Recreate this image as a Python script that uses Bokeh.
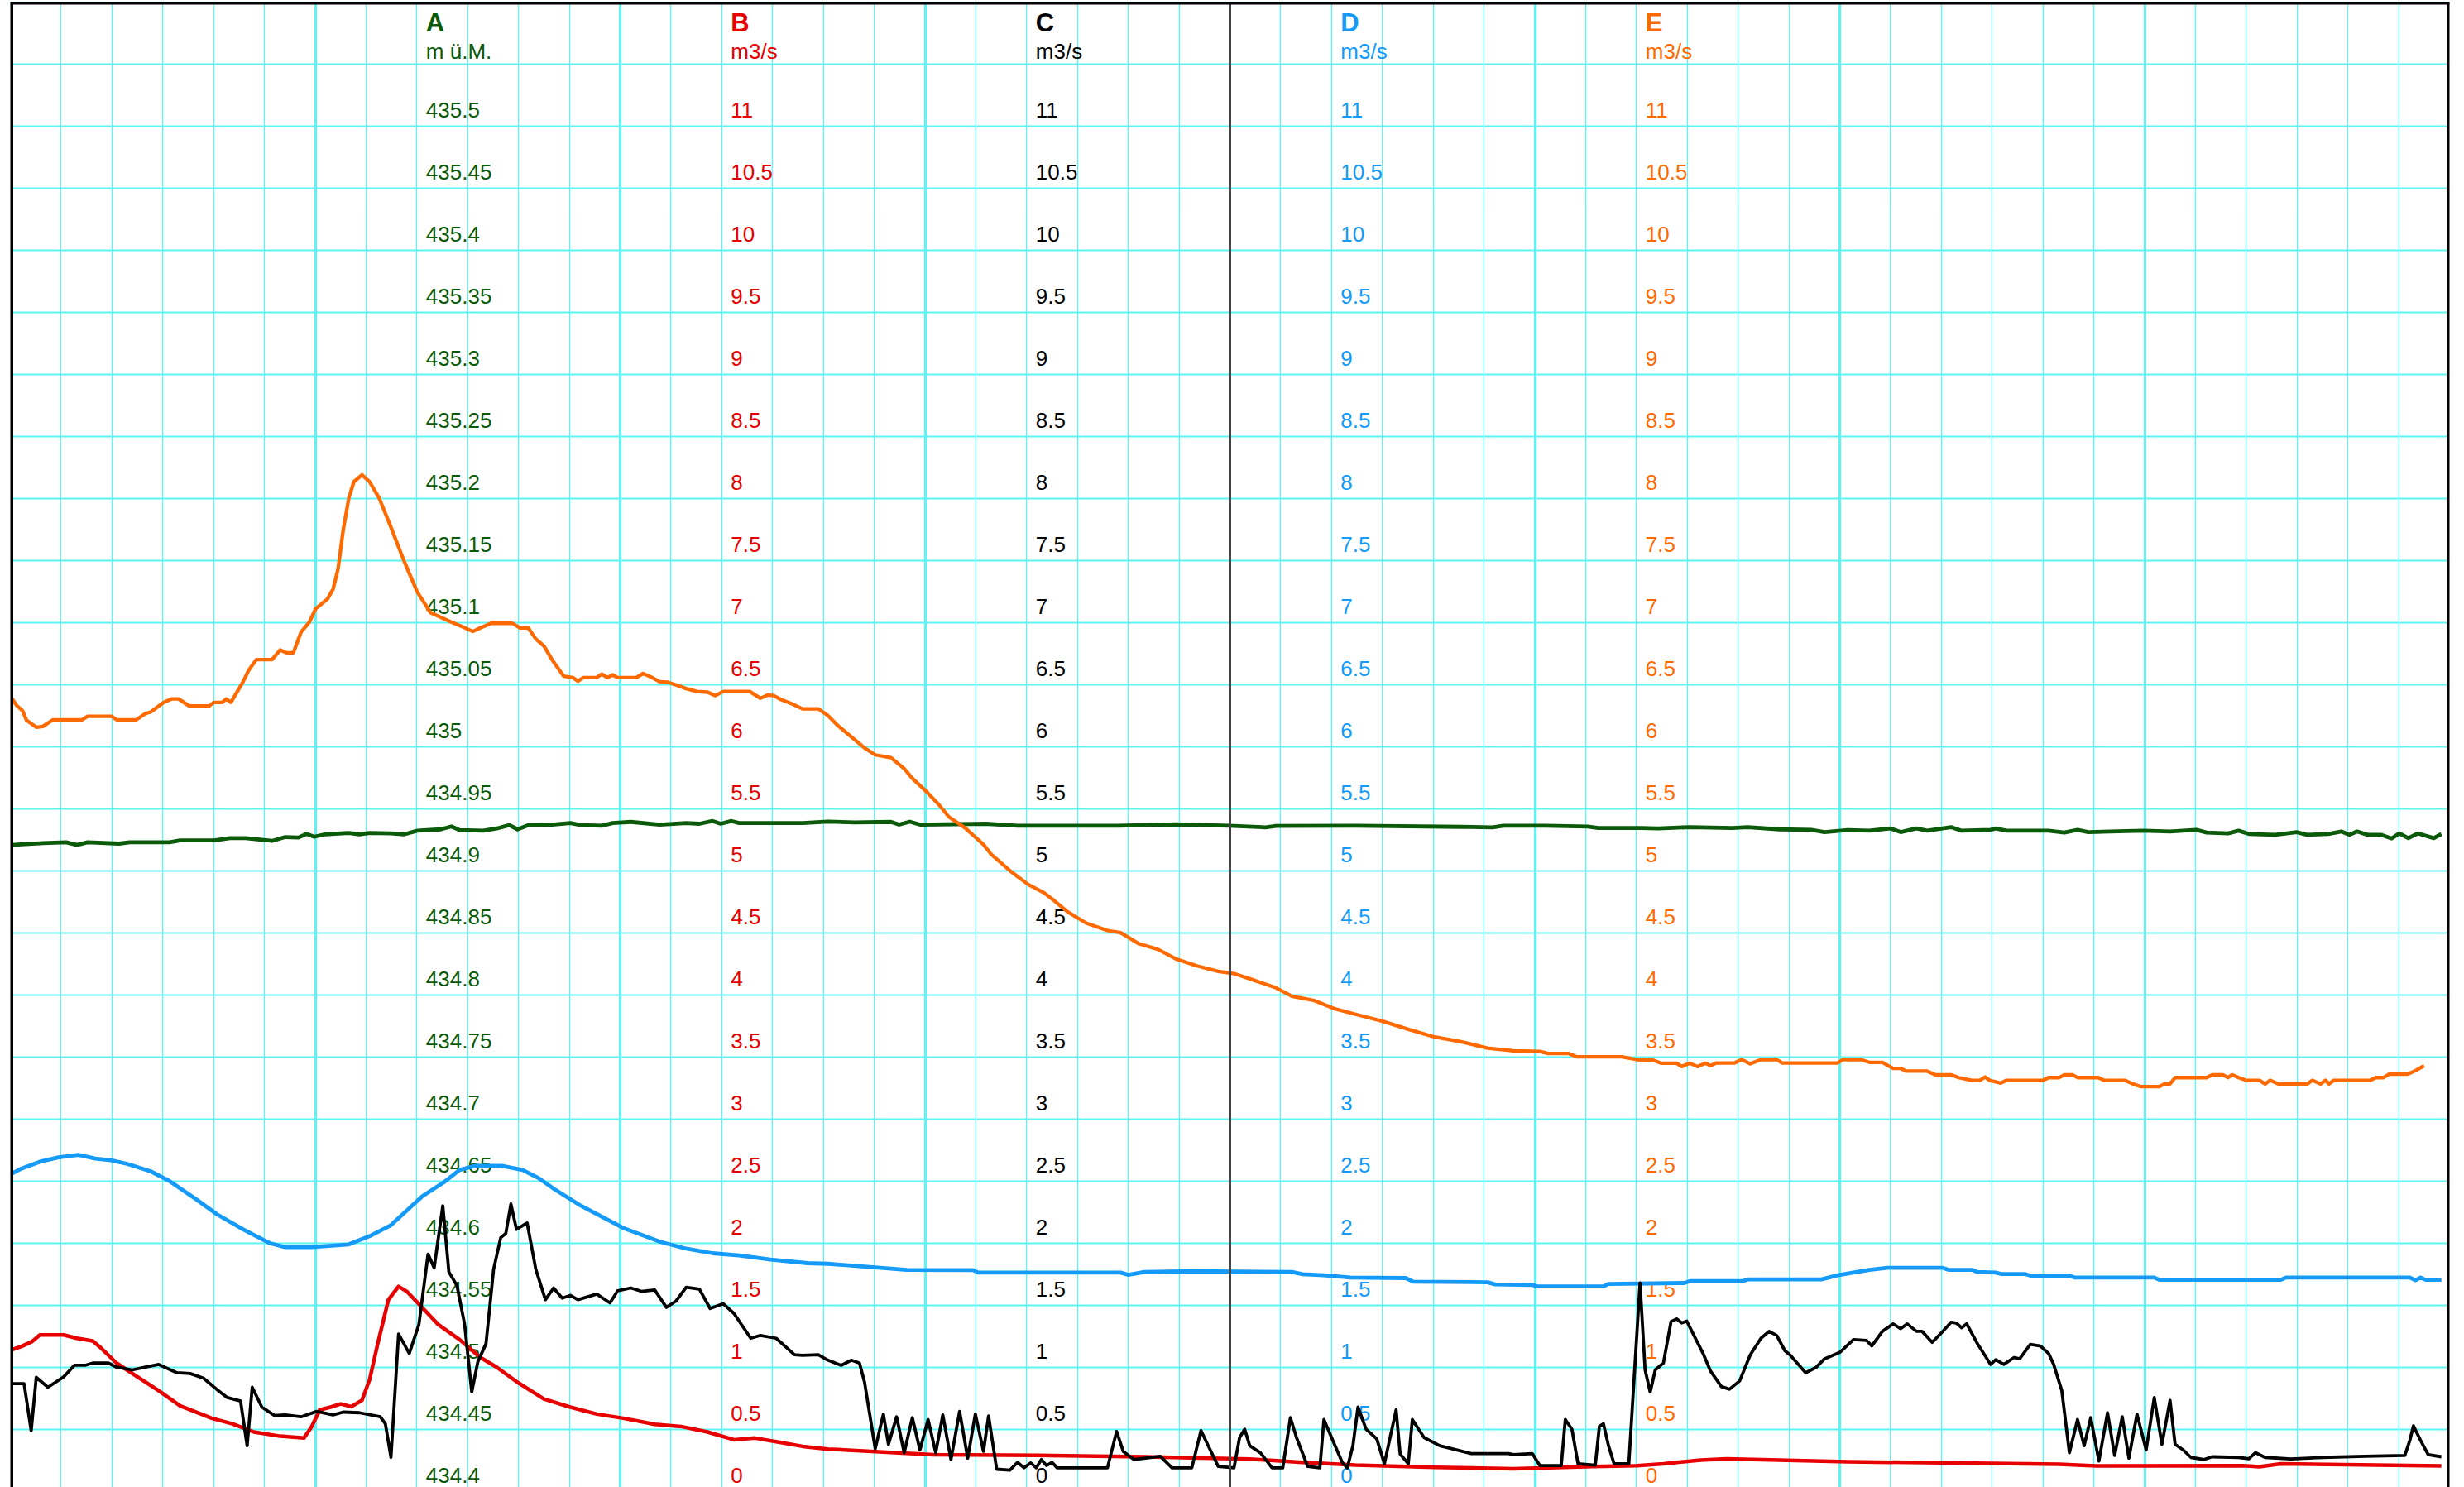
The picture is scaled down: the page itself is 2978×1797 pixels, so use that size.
from bokeh.plotting import figure
from bokeh.models import Range1d, FixedTicker, Span, Grid
from bokeh.core.properties import value
from bokeh.embed import file_html
from bokeh.resources import INLINE

# ---------------- data (hours since start, values) ----------------
hours_major = [0, 6, 12, 18, 24, 30, 36, 42, 48]
hours_minor = list(range(0, 49))
flow_grid = [0, 0.5, 1, 1.5, 2, 2.5, 3, 3.5, 4, 4.5, 5, 5.5, 6, 6.5, 7, 7.5, 8, 8.5,
             9, 9.5, 10, 10.5, 11, 11.5, 12]
divider_hour = 24

a_ticks = [434.4, 434.45, 434.5, 434.55, 434.6, 434.65, 434.7, 434.75, 434.8, 434.85,
           434.9, 434.95, 435.0, 435.05, 435.1, 435.15, 435.2, 435.25, 435.3, 435.35,
           435.4, 435.45, 435.5]
flow_ticks = [0, 0.5, 1, 1.5, 2, 2.5, 3, 3.5, 4, 4.5, 5, 5.5, 6, 6.5, 7, 7.5, 8, 8.5,
              9, 9.5, 10, 10.5, 11]

series_names = ["A", "B", "C", "D", "E"]
series_units = ["m ü.M.", "m3/s", "m3/s", "m3/s", "m3/s"]

# A: water level, m ü.M.
A_points = [(0.01, 434.9207), (0.64, 434.9222), (1.10, 434.9229), (1.31, 434.9207), (1.52, 434.9229),
            (2.14, 434.9218), (2.35, 434.9229), (3.13, 434.9229), (3.34, 434.9244), (4.01, 434.9244),
            (4.32, 434.9262), (4.63, 434.9262), (5.15, 434.924), (5.41, 434.9271), (5.67, 434.9267),
            (5.83, 434.9296), (5.98, 434.9273), (6.19, 434.9293), (6.66, 434.9304), (6.87, 434.9293),
            (7.07, 434.9304), (7.49, 434.930), (7.75, 434.9293), (8.01, 434.9322), (8.47, 434.9333),
            (8.68, 434.9356), (8.84, 434.9327), (9.31, 434.9322), (9.57, 434.934), (9.82, 434.9367),
            (9.98, 434.9333), (10.19, 434.9367), (10.66, 434.9371), (11.02, 434.9384), (11.23, 434.9367),
            (11.64, 434.9362), (11.85, 434.9384), (12.21, 434.9393), (12.78, 434.9371), (13.30, 434.9384),
            (13.56, 434.9378), (13.82, 434.940), (13.98, 434.9378), (14.19, 434.940), (14.34, 434.9384),
            (15.59, 434.9384), (16.09, 434.9396), (16.61, 434.9389), (17.33, 434.9393), (17.49, 434.9371),
            (17.70, 434.9395), (17.90, 434.9371), (19.2, 434.9378), (19.82, 434.9362), (21.8, 434.9362),
            (22.94, 434.9373), (23.98, 434.9362), (24.70, 434.9349), (24.91, 434.936), (26.47, 434.9362),
            (28.55, 434.9353), (29.17, 434.9349), (29.38, 434.9362), (30.21, 434.9362), (31.04, 434.9356),
            (31.25, 434.9344), (32.08, 434.9344), (32.43, 434.934), (33.05, 434.9351), (33.88, 434.9344),
            (34.19, 434.9351), (34.81, 434.9333), (35.44, 434.9329), (35.70, 434.9311), (36.16, 434.9327),
            (36.58, 434.9322), (37.0, 434.934), (37.2, 434.9311), (37.51, 434.934), (37.72, 434.9322),
            (38.19, 434.9351), (38.40, 434.9322), (38.97, 434.9329), (39.07, 434.934), (39.28, 434.9322),
            (40.11, 434.9322), (40.42, 434.9307), (40.68, 434.9329), (40.89, 434.9311), (41.98, 434.9322),
            (42.50, 434.9316), (43.02, 434.9329), (43.22, 434.9307), (43.64, 434.930), (43.85, 434.9322),
            (44.05, 434.9296), (44.57, 434.9289), (44.99, 434.9311), (45.20, 434.9289), (45.61, 434.9296),
            (45.87, 434.9316), (46.03, 434.9289), (46.18, 434.9316), (46.39, 434.9289), (46.65, 434.9289),
            (46.86, 434.926), (47.01, 434.930), (47.19, 434.9262), (47.38, 434.930), (47.69, 434.9262),
            (47.84, 434.9296)]

# B: discharge m3/s (red)
B_points = [(0.01, 1.138), (0.22, 1.167), (0.43, 1.207), (0.58, 1.26), (1.05, 1.26), (1.31, 1.233),
            (1.62, 1.211), (1.78, 1.156), (2.09, 1.033), (2.50, 0.922), (2.92, 0.811), (3.34, 0.689),
            (3.96, 0.589), (4.37, 0.544), (4.79, 0.478), (5.31, 0.444), (5.78, 0.429), (5.93, 0.522),
            (6.09, 0.656), (6.30, 0.678), (6.50, 0.704), (6.71, 0.682), (6.92, 0.733), (7.07, 0.90),
            (7.23, 1.189), (7.44, 1.544), (7.64, 1.651), (7.80, 1.611), (8.11, 1.478), (8.42, 1.344),
            (8.84, 1.222), (9.25, 1.078), (9.57, 1.0), (9.98, 0.878), (10.5, 0.744), (11.02, 0.678),
            (11.54, 0.622), (12.06, 0.589), (12.68, 0.540), (13.2, 0.522), (13.72, 0.478), (14.24, 0.415),
            (14.65, 0.429), (15.07, 0.40), (15.59, 0.362), (16.09, 0.340), (18.16, 0.295), (20.24, 0.289),
            (22.32, 0.278), (24.39, 0.260), (25.43, 0.233), (26.47, 0.211), (28.03, 0.193), (29.58, 0.182),
            (31.14, 0.20), (32.01, 0.207), (32.53, 0.222), (33.26, 0.251), (33.78, 0.262), (36.16, 0.238),
            (40.32, 0.218), (41.04, 0.204), (43.95, 0.207), (44.26, 0.198), (44.68, 0.222), (47.84, 0.204)]

# C: discharge m3/s (black)
C_points = [(0.01, 0.867), (0.27, 0.867), (0.41, 0.489), (0.51, 0.918), (0.74, 0.838), (1.05, 0.922),
            (1.26, 1.015), (1.47, 1.015), (1.62, 1.033), (1.93, 1.033), (2.09, 1.0), (2.40, 0.978),
            (2.66, 1.0), (2.92, 1.022), (3.28, 0.955), (3.54, 0.949), (3.80, 0.911), (4.06, 0.822),
            (4.27, 0.755), (4.53, 0.727), (4.66, 0.367), (4.76, 0.838), (4.95, 0.678), (5.20, 0.611),
            (5.41, 0.615), (5.72, 0.60), (6.03, 0.644), (6.35, 0.615), (6.55, 0.638), (6.87, 0.633),
            (7.28, 0.60), (7.38, 0.544), (7.49, 0.273), (7.64, 1.267), (7.85, 1.111), (8.04, 1.344),
            (8.22, 1.911), (8.34, 1.80), (8.51, 2.30), (8.63, 1.767), (8.79, 1.656), (8.94, 1.344),
            (9.08, 0.80), (9.20, 1.044), (9.36, 1.189), (9.51, 1.789), (9.65, 2.044), (9.75, 2.078),
            (9.85, 2.315), (9.96, 2.111), (10.17, 2.162), (10.34, 1.789), (10.53, 1.544), (10.69, 1.638),
            (10.86, 1.556), (11.02, 1.578), (11.17, 1.544), (11.54, 1.589), (11.80, 1.518), (11.95, 1.615),
            (12.21, 1.638), (12.42, 1.611), (12.68, 1.622), (12.91, 1.482), (13.1, 1.533), (13.30, 1.644),
            (13.56, 1.629), (13.77, 1.473), (14.03, 1.511), (14.24, 1.433), (14.57, 1.233), (14.76, 1.256),
            (15.07, 1.233), (15.43, 1.10), (15.59, 1.096), (15.90, 1.10), (16.09, 1.056), (16.35, 1.015),
            (16.55, 1.056), (16.71, 1.033), (16.81, 0.878), (17.02, 0.344), (17.18, 0.622), (17.28, 0.378),
            (17.44, 0.60), (17.59, 0.311), (17.75, 0.593), (17.90, 0.333), (18.06, 0.578), (18.21, 0.311),
            (18.35, 0.615), (18.51, 0.256), (18.68, 0.644), (18.84, 0.267), (18.99, 0.622), (19.15, 0.322),
            (19.25, 0.607), (19.41, 0.178), (19.67, 0.171), (19.82, 0.233), (19.95, 0.189), (20.08, 0.229),
            (20.19, 0.189), (20.29, 0.256), (20.39, 0.207), (20.50, 0.233), (20.60, 0.189), (21.59, 0.189),
            (21.77, 0.482), (21.90, 0.322), (22.11, 0.256), (22.63, 0.282), (22.86, 0.189), (23.25, 0.189),
            (23.43, 0.489), (23.56, 0.378), (23.77, 0.20), (24.08, 0.189), (24.19, 0.433), (24.29, 0.50),
            (24.39, 0.367), (24.60, 0.311), (24.83, 0.189), (25.04, 0.189), (25.19, 0.593), (25.31, 0.433),
            (25.53, 0.20), (25.77, 0.189), (25.85, 0.578), (26.0, 0.433), (26.21, 0.233), (26.31, 0.189),
            (26.42, 0.367), (26.52, 0.678), (26.68, 0.50), (26.89, 0.422), (27.04, 0.222), (27.27, 0.656),
            (27.35, 0.30), (27.51, 0.222), (27.59, 0.578), (27.82, 0.433), (28.13, 0.367), (28.75, 0.304),
            (29.48, 0.304), (29.58, 0.295), (29.95, 0.304), (30.10, 0.207), (30.52, 0.207), (30.60, 0.578),
            (30.73, 0.50), (30.85, 0.222), (31.19, 0.211), (31.27, 0.522), (31.35, 0.544), (31.45, 0.367),
            (31.56, 0.222), (31.85, 0.222), (32.07, 1.678), (32.17, 0.978), (32.27, 0.80), (32.37, 0.978),
            (32.53, 1.033), (32.68, 1.367), (32.79, 1.389), (32.89, 1.356), (32.99, 1.371), (33.31, 1.111),
            (33.46, 0.967), (33.67, 0.844), (33.83, 0.822), (34.03, 0.889), (34.24, 1.10), (34.45, 1.233),
            (34.61, 1.289), (34.76, 1.256), (34.92, 1.133), (35.02, 1.10), (35.33, 0.955), (35.54, 1.0),
            (35.70, 1.067), (36.01, 1.122), (36.27, 1.222), (36.53, 1.215), (36.63, 1.171), (36.84, 1.289),
            (37.05, 1.349), (37.20, 1.311), (37.33, 1.349), (37.51, 1.289), (37.62, 1.289), (37.82, 1.20),
            (38.03, 1.289), (38.19, 1.362), (38.29, 1.356), (38.40, 1.318), (38.50, 1.349), (38.71, 1.189),
            (38.97, 1.022), (39.07, 1.060), (39.23, 1.022), (39.43, 1.078), (39.54, 1.067), (39.75, 1.184),
            (39.95, 1.171), (40.11, 1.111), (40.21, 1.022), (40.37, 0.811), (40.52, 0.311), (40.68, 0.578),
            (40.81, 0.367), (40.94, 0.593), (41.10, 0.244), (41.27, 0.633), (41.41, 0.289), (41.56, 0.60),
            (41.69, 0.267), (41.85, 0.622), (42.03, 0.333), (42.19, 0.755), (42.34, 0.378), (42.50, 0.733),
            (42.60, 0.378), (42.76, 0.333), (42.91, 0.273), (43.17, 0.256), (43.33, 0.278), (43.85, 0.273),
            (44.05, 0.262), (44.18, 0.311), (44.37, 0.273), (44.88, 0.260), (45.51, 0.273), (46.34, 0.282),
            (47.12, 0.289), (47.22, 0.411), (47.29, 0.527), (47.43, 0.411), (47.58, 0.295), (47.84, 0.278)]

# D: discharge m3/s (blue)
D_points = [(0.01, 2.555), (0.22, 2.60), (0.58, 2.655), (0.95, 2.69), (1.34, 2.711), (1.67, 2.68),
            (1.98, 2.667), (2.30, 2.638), (2.76, 2.578), (3.13, 2.50), (3.65, 2.355), (4.06, 2.233),
            (4.58, 2.111), (5.10, 2.0), (5.41, 1.967), (5.93, 1.967), (6.66, 1.989), (7.07, 2.056),
            (7.49, 2.144), (8.11, 2.378), (8.53, 2.489), (8.84, 2.589), (9.15, 2.622), (9.67, 2.622),
            (10.08, 2.589), (10.4, 2.522), (10.71, 2.433), (11.23, 2.30), (12.06, 2.122), (12.78, 2.011),
            (13.30, 1.955), (13.82, 1.918), (14.34, 1.90), (14.96, 1.867), (15.69, 1.838), (16.09, 1.833),
            (17.02, 1.804), (17.64, 1.784), (18.94, 1.782), (19.05, 1.762), (21.85, 1.762), (22.0, 1.744),
            (22.32, 1.767), (23.25, 1.773), (25.22, 1.767), (25.43, 1.749), (25.85, 1.740), (26.37, 1.722),
            (27.46, 1.718), (27.61, 1.689), (29.07, 1.684), (29.22, 1.667), (29.95, 1.662), (30.05, 1.651),
            (31.35, 1.651), (31.45, 1.671), (32.94, 1.678), (33.05, 1.693), (34.09, 1.693), (34.19, 1.707),
            (35.64, 1.707), (35.96, 1.740), (36.27, 1.762), (36.58, 1.784), (36.94, 1.80), (38.03, 1.80),
            (38.14, 1.784), (38.60, 1.784), (38.71, 1.767), (39.07, 1.762), (39.17, 1.751), (39.64, 1.751),
            (39.75, 1.738), (40.52, 1.738), (40.63, 1.722), (42.19, 1.722), (42.29, 1.704), (44.68, 1.704),
            (44.78, 1.722), (47.22, 1.722), (47.33, 1.700), (47.43, 1.722), (47.53, 1.704), (47.84, 1.704)]

# E: discharge m3/s (orange)
E_points = [(0.03, 6.389), (0.12, 6.333), (0.24, 6.289), (0.32, 6.211), (0.51, 6.156), (0.64, 6.162),
            (0.84, 6.216), (1.41, 6.216), (1.52, 6.244), (1.99, 6.244), (2.09, 6.216), (2.48, 6.216),
            (2.66, 6.267), (2.76, 6.278), (3.02, 6.356), (3.18, 6.384), (3.31, 6.384), (3.52, 6.327),
            (3.91, 6.327), (4.01, 6.356), (4.17, 6.356), (4.25, 6.384), (4.34, 6.356), (4.58, 6.522),
            (4.69, 6.615), (4.84, 6.70), (5.15, 6.70), (5.31, 6.778), (5.43, 6.756), (5.57, 6.756),
            (5.72, 6.922), (5.88, 7.0), (6.01, 7.111), (6.24, 7.189), (6.35, 7.267), (6.45, 7.433),
            (6.55, 7.744), (6.66, 8.0), (6.76, 8.133), (6.92, 8.189), (7.07, 8.133), (7.26, 8.0),
            (7.49, 7.767), (7.70, 7.544), (7.80, 7.444), (8.01, 7.244), (8.27, 7.078), (8.42, 7.051),
            (8.63, 7.011), (8.89, 6.967), (9.10, 6.927), (9.25, 6.956), (9.46, 6.993), (9.88, 6.993),
            (10.03, 6.956), (10.19, 6.956), (10.34, 6.867), (10.50, 6.811), (10.66, 6.70), (10.89, 6.567),
            (11.07, 6.556), (11.17, 6.527), (11.28, 6.556), (11.54, 6.556), (11.64, 6.584), (11.75, 6.556),
            (11.85, 6.578), (11.95, 6.556), (12.32, 6.556), (12.45, 6.589), (12.63, 6.556), (12.78, 6.522),
            (12.94, 6.518), (13.10, 6.496), (13.30, 6.467), (13.51, 6.444), (13.72, 6.438), (13.87, 6.411),
            (14.03, 6.444), (14.55, 6.444), (14.76, 6.389), (14.91, 6.416), (15.02, 6.411), (15.17, 6.378),
            (15.38, 6.344), (15.59, 6.304), (15.90, 6.304), (16.09, 6.25), (16.29, 6.167), (16.81, 5.989),
            (17.02, 5.933), (17.33, 5.911), (17.59, 5.822), (17.75, 5.744), (18.01, 5.644), (18.27, 5.533),
            (18.47, 5.433), (18.79, 5.344), (19.15, 5.211), (19.30, 5.133), (19.67, 5.0), (20.03, 4.889),
            (20.34, 4.822), (20.55, 4.756), (20.81, 4.667), (21.17, 4.578), (21.59, 4.518), (21.85, 4.50),
            (22.21, 4.411), (22.58, 4.367), (22.94, 4.289), (23.35, 4.233), (23.77, 4.189), (24.08, 4.171),
            (24.44, 4.122), (24.91, 4.056), (25.22, 3.989), (25.64, 3.956), (26.05, 3.889), (26.52, 3.838),
            (26.99, 3.789), (27.51, 3.722), (28.03, 3.66), (28.55, 3.622), (29.07, 3.571), (29.58, 3.549),
            (30.10, 3.544), (30.26, 3.527), (30.67, 3.527), (30.83, 3.50), (31.71, 3.50), (31.87, 3.489),
            (32.01, 3.478), (32.32, 3.474), (32.48, 3.449), (32.79, 3.449), (32.89, 3.422), (33.05, 3.449),
            (33.20, 3.422), (33.36, 3.449), (33.46, 3.429), (33.57, 3.451), (33.93, 3.451), (34.07, 3.478),
            (34.24, 3.444), (34.45, 3.478), (34.76, 3.478), (34.87, 3.451), (35.96, 3.451), (36.06, 3.478),
            (36.42, 3.478), (36.58, 3.456), (36.84, 3.456), (37.05, 3.407), (37.2, 3.407), (37.31, 3.385),
            (37.72, 3.385), (37.88, 3.356), (38.19, 3.356), (38.34, 3.333), (38.60, 3.311), (38.76, 3.311),
            (38.86, 3.338), (38.95, 3.311), (39.17, 3.289), (39.28, 3.311), (40.0, 3.311), (40.11, 3.333),
            (40.32, 3.333), (40.42, 3.356), (40.58, 3.356), (40.68, 3.333), (41.09, 3.333), (41.20, 3.311),
            (41.61, 3.311), (41.77, 3.282), (41.93, 3.260), (42.29, 3.260), (42.39, 3.282), (42.50, 3.282),
            (42.60, 3.333), (43.22, 3.333), (43.33, 3.356), (43.54, 3.356), (43.64, 3.333), (43.72, 3.356),
            (43.85, 3.333), (44.00, 3.311), (44.26, 3.311), (44.37, 3.282), (44.47, 3.311), (44.63, 3.282),
            (45.20, 3.282), (45.30, 3.311), (45.46, 3.282), (45.56, 3.311), (45.63, 3.282), (45.72, 3.311),
            (46.44, 3.311), (46.55, 3.333), (46.70, 3.333), (46.81, 3.360), (47.17, 3.360), (47.33, 3.389),
            (47.50, 3.429)]

# ---------------- styling ----------------
GREEN = "#0a5a0a"
RED = "#e60000"
BLACK = "#000000"
BLUE = "#159bf7"
ORANGE = "#ff6a00"
CYAN = "#5ff3f3"
FONT = "Liberation Sans"

colors = [GREEN, RED, BLACK, BLUE, ORANGE]
label_hours = [8, 14, 20, 26, 32]

BORDER_L, BORDER_R, BORDER_T = 12, 10, 2
FRAME_W, FRAME_H = 2948, 1795
W, H = BORDER_L + FRAME_W + BORDER_R, BORDER_T + FRAME_H
px_per_unit = 150.0
zero_px = 1801.7          # page y of flow value 0
y_top = (zero_px - BORDER_T) / px_per_unit
y_bottom = y_top - FRAME_H / px_per_unit

p = figure(width=W, height=H, x_range=Range1d(0, 48), y_range=Range1d(y_bottom, y_top),
           x_axis_location=None, y_axis_location=None, toolbar_location=None,
           output_backend="svg", min_border_left=BORDER_L, min_border_right=BORDER_R,
           min_border_top=BORDER_T, min_border_bottom=0, background_fill_color="white",
           border_fill_color="white")
p.extra_y_ranges = {"A": Range1d(434.4 + y_bottom / 10.0, 434.4 + y_top / 10.0)}
p.outline_line_color = None
p.xgrid.visible = False
p.ygrid.visible = False

p.add_layout(Grid(dimension=0, ticker=FixedTicker(ticks=hours_minor),
                  grid_line_color=CYAN, grid_line_width=1.3))
p.add_layout(Grid(dimension=0, ticker=FixedTicker(ticks=hours_major),
                  grid_line_color=CYAN, grid_line_width=3))
p.add_layout(Grid(dimension=1, ticker=FixedTicker(ticks=flow_grid),
                  grid_line_color=CYAN, grid_line_width=2))
p.add_layout(Span(location=divider_hour, dimension="height", line_color="#444444",
                  line_width=3))

# frame border on the left, top and right only (the bottom runs off the page)
p.add_layout(Span(location=0, dimension="height", line_color="black", line_width=7))
p.add_layout(Span(location=48, dimension="height", line_color="black", line_width=7))
p.add_layout(Span(location=y_top, dimension="width", line_color="black", line_width=6))

# ---------------- column labels ----------------
for i, name in enumerate(series_names):
    hx = label_hours[i]
    col = colors[i]
    p.text(x=[hx], y=[11.5], text=[name], text_color=col, text_font=value(FONT),
           text_font_size="31px", text_font_style="bold", text_baseline="alphabetic",
           x_offset=11, y_offset=-50)
    p.text(x=[hx], y=[11.5], text=[series_units[i]], text_color=col, text_font=value(FONT),
           text_font_size="26px", text_baseline="alphabetic", x_offset=11, y_offset=-15)
    if name == "A":
        ticks = a_ticks
        rng = "A"
    else:
        ticks = flow_ticks
        rng = "default"
    p.text(x=[hx] * len(ticks), y=ticks, text=[f"{t:g}" for t in ticks], text_color=col,
           text_font=value(FONT), text_font_size="26px", text_baseline="alphabetic",
           x_offset=11, y_offset=-19, y_range_name=rng)

# ---------------- series lines ----------------
def split(points):
    return [pt[0] for pt in points], [pt[1] for pt in points]

ax, ay = split(A_points)
p.line(ax, ay, line_color=GREEN, line_width=4.8, line_join="round", y_range_name="A")
bx, by = split(B_points)
p.line(bx, by, line_color=RED, line_width=4.5, line_join="round")
dx, dy = split(D_points)
p.line(dx, dy, line_color=BLUE, line_width=4.8, line_join="round")
ex, ey = split(E_points)
p.line(ex, ey, line_color=ORANGE, line_width=4.3, line_join="round")
cx, cy = split(C_points)
p.line(cx, cy, line_color=BLACK, line_width=3.8, line_join="round")

open("out.html", "w").write(file_html(p, INLINE))
